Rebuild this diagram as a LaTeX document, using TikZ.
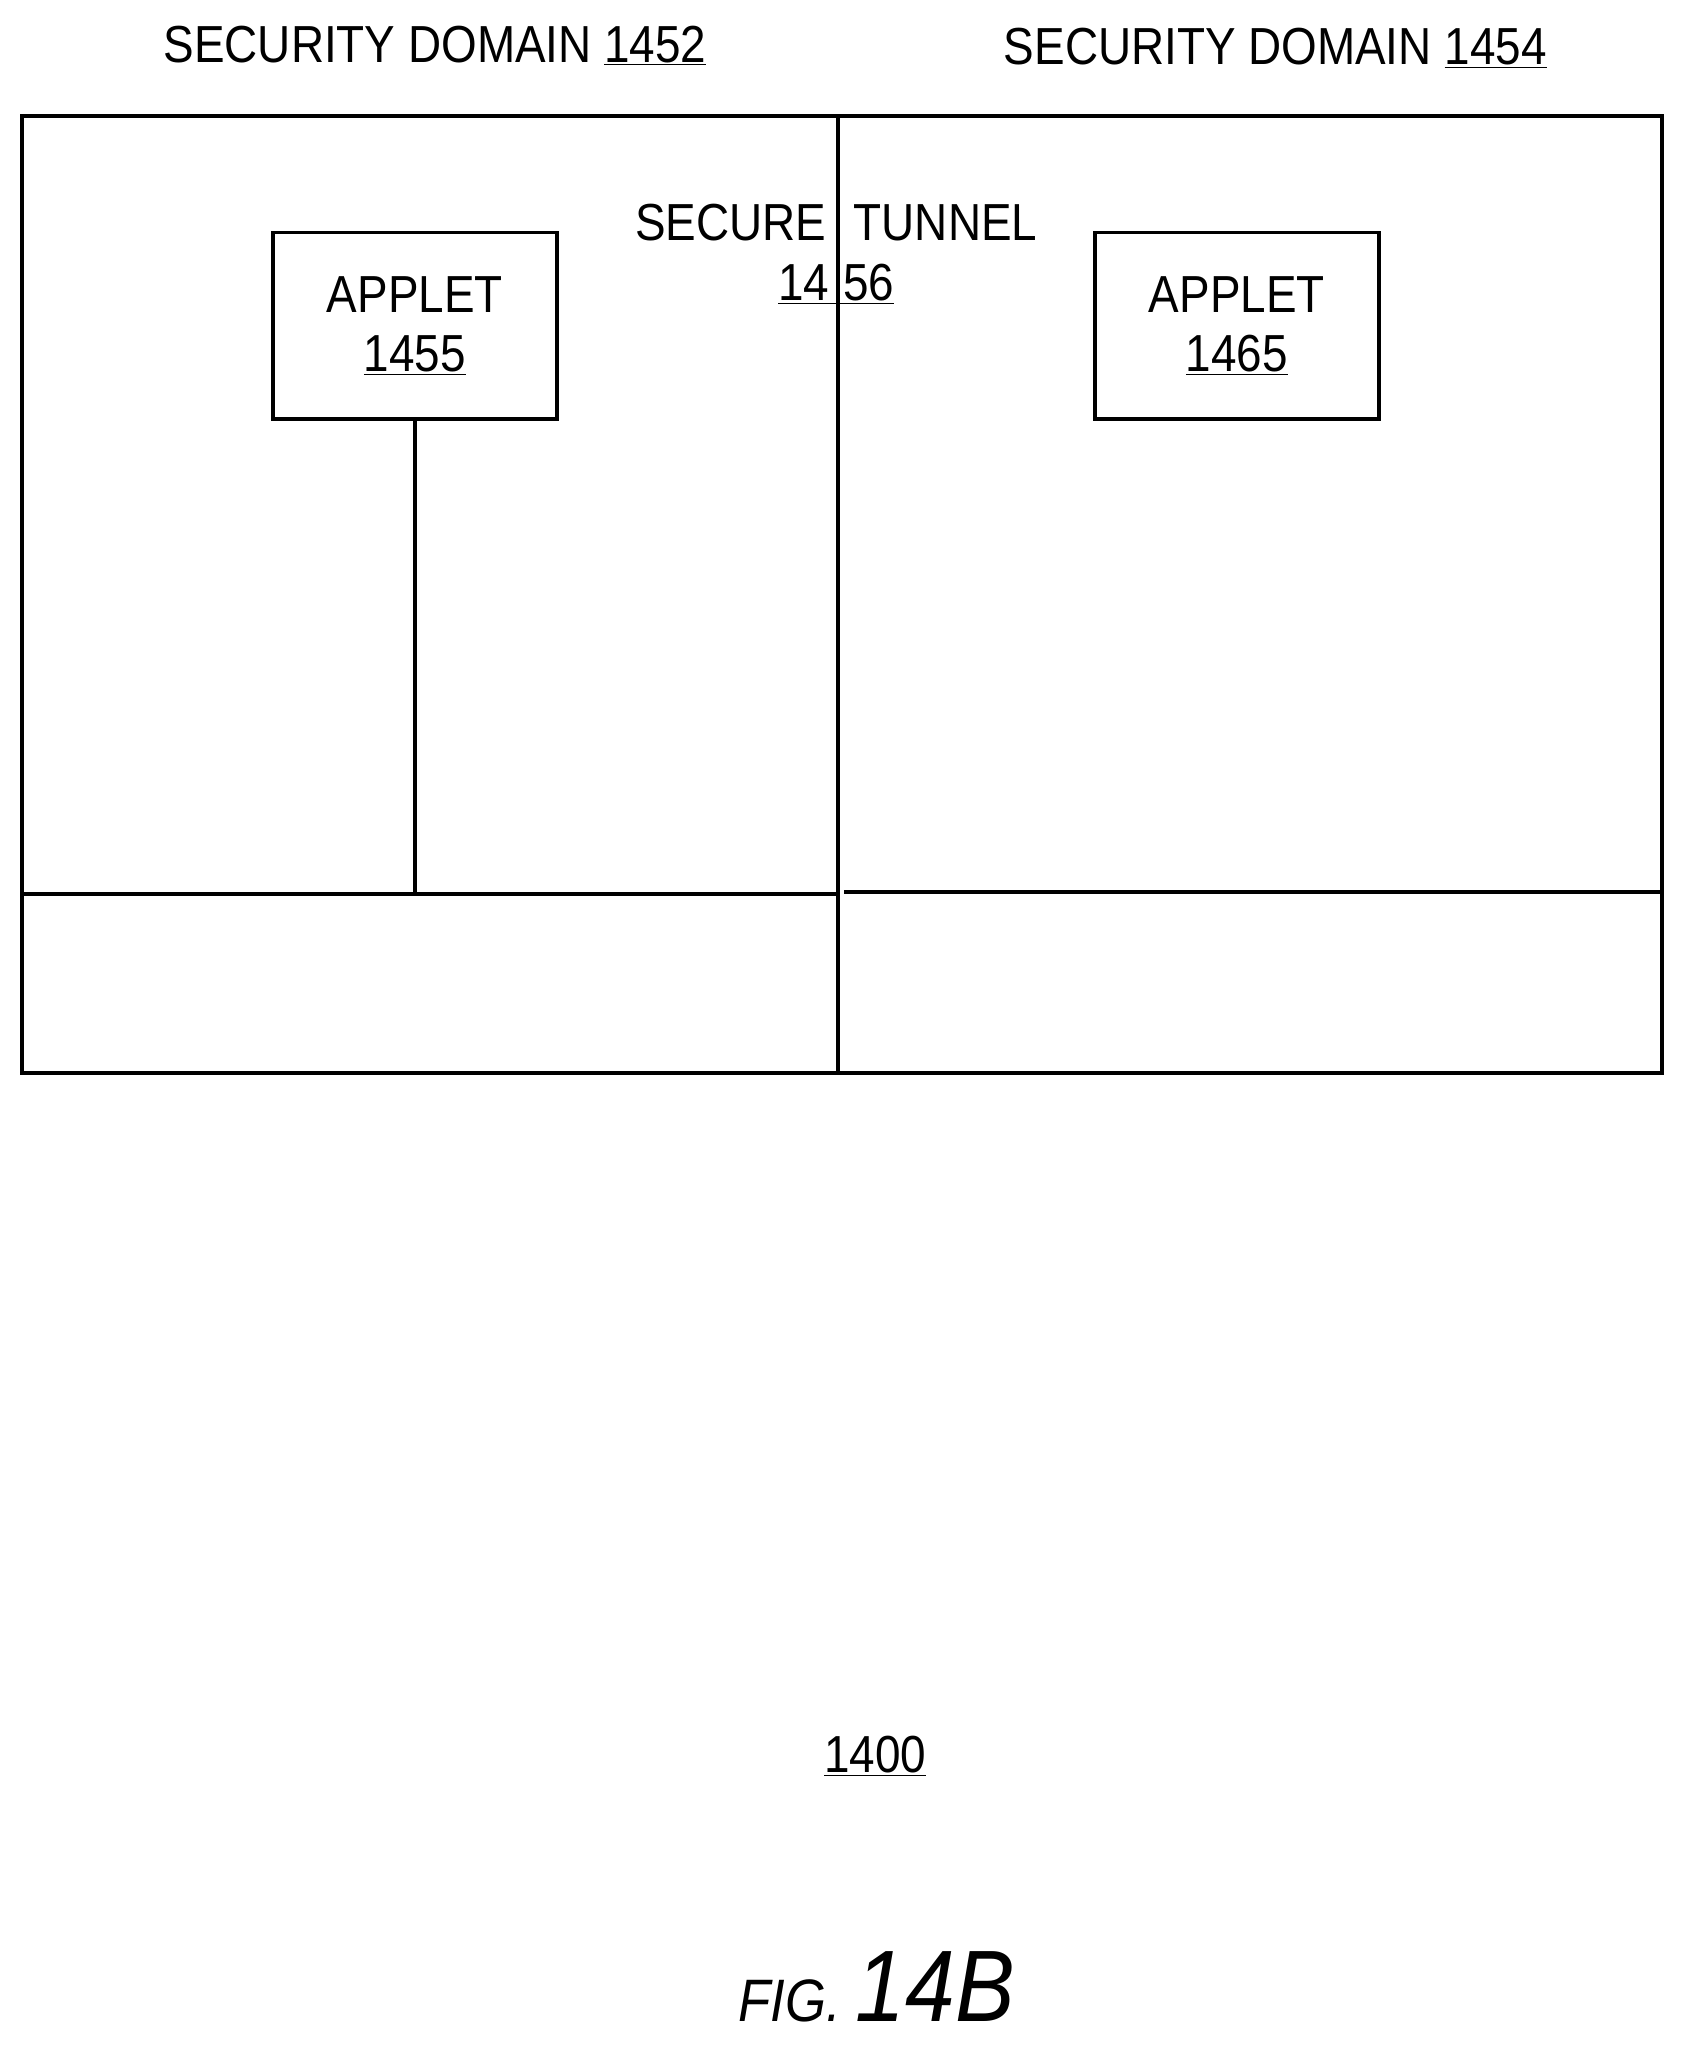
\documentclass[tikz,border=0pt]{standalone}
\usepackage{fontspec}
\setmainfont{Liberation Sans}
\begin{document}
\begin{tikzpicture}[x=1pt,y=-1pt,line width=3pt,
  lab/.style={font=\fontsize{40}{46}\selectfont,align=center,inner sep=0pt,xscale=0.88},
  box/.style={draw,minimum width=218pt,minimum height=143pt,anchor=north west}]
\useasboundingbox (0,0) rectangle (1297,1573);
\draw (17,89) rectangle (1276,824);
\coordinate (vt) at (643,89); \coordinate (vb) at (643,824);
\draw (vt) -- (vb);
\coordinate (hl) at (17,686); \coordinate (hm) at (643,686);
\coordinate (hr1) at (648,685); \coordinate (hr2) at (1276,685);
\draw (hl) -- (hm); \draw (hr1) -- (hr2);
\node[box] (a1) at (208,177) {};
\node[lab] at (a1.center) {APPLET\\\underline{1455}};
\node[box] (a2) at (839,177) {};
\node[lab] at (a2.center) {APPLET\\\underline{1465}};
\coordinate (j) at (a1.south |- hm);
\draw (a1.south) -- (j);
\node[lab] (st) at (642,195) {SECURE\hspace{0.6em}TUNNEL\\\underline{14\hspace{0.3em}56}};
\node[lab] (d1) at (334,35) {SECURITY DOMAIN \underline{1452}};
\node[lab] (d2) at (979,37) {SECURITY DOMAIN \underline{1454}};
\node[lab] (n) at (672,1348) {\underline{1400}};
\node[inner sep=0pt,xscale=0.88] (fig) at (673,1525) {\itshape\fontsize{46}{50}\selectfont FIG. \fontsize{78}{80}\selectfont 14B};
\end{tikzpicture}
\end{document}
